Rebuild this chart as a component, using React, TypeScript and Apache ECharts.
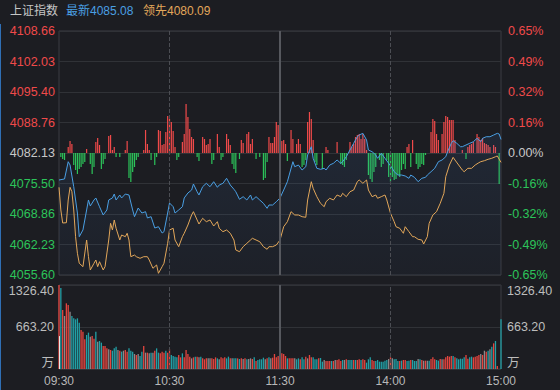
import React, { useEffect, useRef } from "react";
import * as echarts from "echarts";

// ---------- data ----------
const TITLE = "上证指数";
const LATEST_TEXT = "最新4085.08";
const LEAD_TEXT = "领先4080.09";

const PRICE_MIN = 4055.6;
const PRICE_MAX = 4108.66;
const PRICE_TICKS = ["4055.60", "4062.23", "4068.86", "4075.50", "4082.13", "4088.76", "4095.40", "4102.03", "4108.66"];
const PCT_TICKS = ["-0.65%", "-0.49%", "-0.32%", "-0.16%", "0.00%", "0.16%", "0.32%", "0.49%", "0.65%"];
const TIME_TICKS = ["09:30", "10:30", "11:30", "14:00", "15:00"];
const VOL_MAX = 1326.4;
const VOL_TICKS = ["万", "663.20", "1326.40"];
const AUCTION_VOLUME = 520;
const STRENGTH_RANGE = 122;

// minute index (0 = 09:30, 240 = 15:00), price
const LATEST: [number, number][] = [
  [0, 4076.26], [3, 4076.48], [5, 4080.24], [6, 4079.52], [8, 4074.8], [10, 4069.08], [11, 4063.93], [13, 4065.39],
  [15, 4069.74], [16, 4071.91], [17, 4070.61], [19, 4071.91], [20, 4072.35], [22, 4070.45], [24, 4068.65], [26, 4069.74],
  [27, 4071.91], [29, 4072.35], [30, 4073.21], [31, 4071.91], [33, 4073.0], [34, 4072.35], [36, 4073.21], [38, 4073.0],
  [40, 4069.74], [41, 4068.28], [43, 4070.17], [45, 4069.08], [47, 4069.37], [48, 4068.0], [50, 4068.28], [52, 4065.82],
  [54, 4066.1], [56, 4064.73], [57, 4065.02], [59, 4069.08], [60, 4071.26], [62, 4070.45], [63, 4069.08], [65, 4069.74],
  [67, 4070.45], [68, 4072.35], [70, 4073.43], [72, 4074.08], [73, 4075.39], [75, 4073.71], [76, 4073.0], [78, 4074.8],
  [80, 4075.54], [82, 4074.8], [84, 4075.89], [86, 4074.67], [87, 4075.17], [89, 4075.54], [91, 4076.63], [93, 4075.17],
  [95, 4074.24], [96, 4073.71], [98, 4072.06], [100, 4072.63], [102, 4071.91], [104, 4073.0], [105, 4071.91], [107, 4072.63],
  [109, 4071.91], [111, 4071.19], [113, 4070.1], [114, 4070.82], [116, 4070.82], [118, 4071.54], [120, 4072.35], [122, 4074.08],
  [124, 4075.89], [125, 4077.34], [127, 4080.24], [128, 4079.15], [130, 4079.52], [132, 4078.43], [134, 4079.15], [135, 4081.7],
  [137, 4083.5], [138, 4080.98], [140, 4078.8], [142, 4078.58], [144, 4078.8], [145, 4078.43], [147, 4079.52], [149, 4079.89],
  [151, 4080.61], [153, 4079.89], [154, 4080.24], [156, 4081.32], [158, 4082.78], [160, 4084.24], [162, 4085.67], [163, 4086.04],
  [165, 4086.41], [167, 4084.96], [168, 4082.78], [170, 4082.41], [172, 4081.7], [173, 4080.98], [175, 4082.07], [177, 4080.98],
  [179, 4079.89], [181, 4078.8], [182, 4078.06], [184, 4077.34], [186, 4077.34], [188, 4077.13], [190, 4076.63], [191, 4077.34],
  [193, 4076.84], [195, 4075.89], [197, 4076.63], [199, 4076.84], [200, 4077.34], [202, 4078.06], [204, 4078.8], [206, 4080.24],
  [208, 4080.61], [210, 4081.32], [211, 4082.41], [213, 4084.24], [214, 4084.81], [216, 4084.24], [218, 4083.5], [219, 4083.5],
  [221, 4083.87], [223, 4084.24], [225, 4084.59], [227, 4085.33], [229, 4084.59], [230, 4085.33], [232, 4085.67], [234, 4085.67],
  [236, 4086.04], [238, 4086.41], [239, 4086.26], [240, 4085.08],
];

const LEADING: [number, number][] = [
  [0, 4074.67], [1, 4069.74], [2, 4066.91], [4, 4066.97], [5, 4071.91], [6, 4074.67], [7, 4073.71], [8, 4069.74],
  [9, 4063.93], [10, 4060.32], [11, 4058.15], [13, 4057.41], [15, 4063.21], [16, 4059.58], [17, 4056.69], [19, 4058.15],
  [20, 4058.86], [21, 4057.41], [22, 4058.49], [24, 4056.69], [25, 4057.41], [27, 4063.21], [28, 4066.84], [29, 4065.39],
  [30, 4067.56], [31, 4065.76], [33, 4063.21], [34, 4064.3], [36, 4063.93], [37, 4064.67], [38, 4063.21], [39, 4059.58],
  [41, 4059.94], [42, 4059.58], [44, 4059.23], [46, 4059.58], [48, 4059.58], [49, 4058.86], [51, 4057.06], [53, 4057.78],
  [54, 4055.97], [56, 4057.41], [57, 4058.15], [59, 4062.49], [60, 4065.39], [62, 4065.76], [63, 4063.21], [65, 4061.76],
  [67, 4063.93], [68, 4064.67], [70, 4066.47], [72, 4068.65], [73, 4069.37], [75, 4067.56], [76, 4066.69], [78, 4067.93],
  [80, 4067.19], [82, 4067.56], [84, 4066.25], [86, 4067.19], [87, 4065.76], [89, 4065.02], [91, 4065.39], [93, 4064.67],
  [95, 4063.21], [96, 4061.04], [98, 4060.67], [100, 4061.76], [102, 4062.49], [104, 4063.21], [105, 4063.58], [107, 4063.21],
  [109, 4062.84], [111, 4061.76], [113, 4061.19], [114, 4061.76], [116, 4061.76], [118, 4062.12], [120, 4063.21], [122, 4066.1],
  [124, 4067.19], [126, 4069.37], [128, 4068.65], [130, 4068.65], [132, 4068.28], [134, 4068.15], [135, 4071.91], [137, 4075.89],
  [138, 4074.45], [140, 4072.63], [142, 4071.19], [144, 4070.45], [145, 4071.54], [147, 4072.28], [149, 4071.91], [151, 4073.0],
  [153, 4072.63], [154, 4073.37], [156, 4072.63], [158, 4073.71], [160, 4074.08], [162, 4075.89], [163, 4076.26], [165, 4075.54],
  [167, 4076.26], [168, 4074.08], [170, 4072.63], [172, 4073.0], [173, 4072.28], [175, 4072.63], [177, 4073.0], [178, 4071.91],
  [180, 4069.02], [182, 4067.19], [183, 4066.1], [185, 4065.76], [187, 4064.67], [188, 4066.1], [190, 4065.02], [192, 4063.93],
  [193, 4063.93], [195, 4063.36], [197, 4063.21], [198, 4062.34], [200, 4063.93], [201, 4066.84], [203, 4068.65], [205, 4069.37],
  [207, 4071.19], [209, 4073.37], [210, 4076.98], [212, 4079.52], [214, 4081.19], [215, 4080.61], [217, 4079.52], [219, 4078.43],
  [220, 4078.06], [222, 4078.8], [224, 4078.8], [226, 4079.52], [228, 4080.02], [229, 4080.24], [231, 4080.46], [233, 4080.76],
  [235, 4080.98], [237, 4081.32], [238, 4081.48], [240, 4080.09],
];

// minute index, buy(+)/sell(-) strength
const STRENGTH: [number, number][] = [
  [1, -4], [2, -6], [3, -7], [5, 6], [6, 12], [7, 9], [8, -12], [9, -17], [10, -21], [11, -16], [12, -14], [13, -11], [14, -9],
  [15, 4], [17, -11], [18, -21], [19, -14], [20, 11], [21, 15], [22, 8], [23, -16], [24, -11], [25, -6], [27, 17], [28, 18],
  [29, 3], [30, 6], [31, -4], [33, -4], [36, 3], [37, 12], [38, -25], [39, -29], [40, -19], [41, -14], [42, -7], [43, -4],
  [46, 3], [47, 23], [48, 9], [49, 3], [50, -7], [52, -12], [53, -4], [54, 23], [55, 22], [56, 8], [57, 9], [58, 21], [59, 37],
  [60, 34], [61, 31], [62, 22], [63, 6], [64, -7], [65, -4], [67, 11], [68, 19], [69, 49], [70, 36], [71, 24], [72, 16], [73, 14],
  [75, -4], [76, -8], [78, 16], [79, 14], [80, 8], [81, 9], [82, 14], [83, -11], [84, -7], [86, 19], [87, 6], [88, -7], [89, -4],
  [91, 19], [92, 14], [93, 8], [94, -11], [95, -16], [96, -20], [98, -6], [99, 13], [100, 10], [102, 19], [103, 21], [104, 9],
  [105, 14], [107, -6], [109, -4], [111, -27], [112, -25], [113, -9], [114, 16], [115, 10], [116, 10], [117, 16], [118, 31],
  [119, 28], [120, 19], [121, 12], [122, 13], [123, 9], [124, -8], [126, 23], [127, 14], [129, 9], [130, 14], [131, 9],
  [132, -14], [133, -12], [134, -7], [135, 31], [136, 41], [137, 34], [138, 13], [139, -9], [140, -12], [143, -16], [145, 6],
  [146, 3], [151, 11], [153, -11], [154, -12], [155, -14], [156, -7], [158, 11], [159, 6], [160, 9], [161, 16], [162, 18],
  [163, 19], [164, 14], [165, 19], [166, 14], [167, 3], [168, -22], [169, -26], [170, -29], [171, -19], [172, -14], [174, -7],
  [175, -14], [176, -11], [178, -7], [179, -24], [180, -29], [181, -24], [182, -27], [183, -26], [184, -22], [185, -24],
  [186, -17], [187, -11], [188, -16], [189, 6], [190, 9], [191, -14], [192, 13], [194, -11], [195, -16], [196, -14], [197, -11],
  [198, -12], [199, -2], [202, 21], [203, 34], [204, 32], [205, 19], [206, 13], [208, 19], [209, 31], [210, 37], [211, 36],
  [212, 33], [213, 33], [214, 33], [215, 13], [219, 3], [221, -6], [222, 6], [223, 8], [224, 9], [225, 11], [227, 19], [228, 16],
  [229, 13], [230, 15], [231, 10], [232, 9], [233, 8], [234, 6], [236, 8], [237, 6], [239, -31],
];

// volume per minute (万), minute 0..240
const VOLUME: number[] = [
  1326, 1279, 932, 837, 1037, 1011, 905, 837, 800, 784,
  800, 732, 616, 589, 468, 537, 574, 511, 521, 479,
  589, 432, 442, 416, 363, 363, 326, 311, 300, 289,
  326, 353, 300, 289, 274, 289, 300, 274, 326, 289,
  274, 237, 221, 237, 205, 274, 363, 258, 258, 247,
  258, 258, 289, 326, 258, 247, 274, 258, 289, 258,
  311, 221, 205, 195, 184, 221, 184, 247, 184, 300,
  237, 195, 168, 184, 195, 195, 184, 195, 168, 153,
  168, 168, 168, 168, 158, 184, 168, 153, 184, 168,
  184, 168, 195, 168, 168, 168, 168, 168, 158, 168,
  158, 168, 153, 158, 168, 158, 184, 126, 142, 153,
  153, 179, 153, 168, 184, 168, 179, 237, 184, 205,
  695, 247, 237, 205, 168, 168, 168, 168, 168, 153,
  168, 153, 184, 153, 195, 168, 221, 184, 184, 153,
  153, 168, 174, 116, 142, 126, 126, 126, 126, 126,
  142, 142, 153, 126, 142, 142, 153, 142, 142, 142,
  142, 142, 142, 153, 142, 153, 142, 100, 153, 184,
  142, 126, 126, 142, 116, 116, 116, 132, 142, 158,
  184, 168, 153, 158, 126, 126, 132, 142, 142, 126,
  132, 142, 142, 126, 126, 158, 153, 142, 132, 132,
  132, 132, 158, 184, 153, 142, 132, 158, 153, 153,
  184, 205, 195, 205, 205, 184, 168, 153, 163, 163,
  184, 221, 163, 184, 195, 184, 195, 205, 221, 237,
  221, 289, 274, 289, 311, 353, 405, 442, 47, 0,
  784,
];

// 1 = up, -1 = down, 0 = flat
const VOL_DIR: number[] = [
  1, -1, 1, 0, 1, 1, 0, -1, -1, -1,
  -1, -1, 1, 1, 1, -1, -1, 0, 1, 1,
  -1, 0, -1, -1, 1, 1, 1, 0, 1, -1,
  -1, -1, 0, 1, -1, 0, 1, 1, -1, -1,
  -1, 0, 1, 0, -1, -1, 1, 0, 1, 0,
  -1, 0, 1, -1, -1, 1, 1, 1, -1, 1,
  1, -1, -1, -1, -1, 1, 1, -1, 1, 1,
  1, 1, 0, 1, -1, 1, 0, -1, 1, 1,
  1, 0, 0, 1, 1, 1, -1, 0, 1, 1,
  1, -1, -1, 1, 0, -1, -1, 1, -1, 1,
  0, 1, -1, 0, 0, 1, -1, 1, -1, -1,
  -1, -1, 0, 1, -1, 0, 1, 1, 1, 1,
  1, 1, 1, 1, -1, 1, 1, 1, 0, -1,
  -1, 1, -1, -1, 1, 0, 1, 1, -1, -1,
  -1, 1, -1, -1, 0, 1, 1, 1, -1, 1,
  0, 1, 1, 1, -1, 0, 1, -1, -1, -1,
  1, -1, 1, 1, -1, 1, 1, -1, -1, -1,
  1, 1, -1, -1, -1, -1, -1, -1, -1, 0,
  1, 0, -1, -1, -1, 1, -1, 1, 1, -1,
  -1, 1, -1, -1, -1, 0, -1, 1, 0, 1,
  0, -1, 1, 1, 1, -1, -1, 1, 0, 1,
  1, 1, 1, 1, -1, 1, -1, -1, -1, -1,
  -1, 1, 1, -1, -1, 1, 1, 1, 1, 0,
  1, 0, 1, -1, 0, -1, 1, -1, 1, 0,
  -1,
];

// ---------- styles ----------
const BG = "#1c1d22";
const FONT = "'Liberation Sans', Arial, 'Noto Sans CJK SC', sans-serif";
const RED = "#f04a4a";
const GREEN = "#2cc45a";
const NEUTRAL = "#c8c8c8";
const BLUE = "#4a9fe3";
const ORANGE = "#e2a75a";
const VOL_RED = "#e5453f";
const VOL_TEAL = "#22a0a6";
const VOL_GRAY = "#8a8a8c";
const GRID_LINE = "#303237";
const BORDER = "#3a3c42";

const tickColor = (i: number) => (i > 4 ? RED : i < 4 ? GREEN : NEUTRAL);

const verticalMarks = {
  silent: true,
  symbol: ["none", "none"],
  label: { show: false },
  animation: false,
  data: [
    { xAxis: 60, lineStyle: { color: "#4b4d53", type: "dashed", width: 1 } },
    { xAxis: 120, lineStyle: { color: "#56585e", type: "solid", width: 2 } },
    { xAxis: 180, lineStyle: { color: "#4b4d53", type: "dashed", width: 1 } },
  ],
};

export default function App() {
  const ref = useRef<HTMLDivElement>(null);

  useEffect(() => {
    if (!ref.current) return;
    const chart = echarts.init(ref.current, null, { renderer: "svg" });

    const option: any = {
      animation: false,
      backgroundColor: BG,
      textStyle: { fontFamily: FONT },
      graphic: [
        { type: "rect", left: 0, top: 24, shape: { width: 1, height: 366 }, style: { fill: "#2f6fb5" }, silent: true },
        { type: "text", left: 10, top: 5, style: { text: TITLE, fill: "#c6c6c6", fontSize: 12, fontFamily: FONT } },
        { type: "text", left: 66, top: 5, style: { text: LATEST_TEXT, fill: BLUE, fontSize: 12, fontFamily: FONT } },
        { type: "text", left: 143, top: 5, style: { text: LEAD_TEXT, fill: ORANGE, fontSize: 12, fontFamily: FONT } },
      ],
      grid: [
        { left: 59, right: 59, top: 31, height: 244, show: true, borderColor: BORDER, borderWidth: 1, backgroundColor: "transparent" },
        { left: 59, right: 59, top: 285, height: 84, show: true, borderColor: BORDER, borderWidth: 1, backgroundColor: "transparent" },
      ],
      xAxis: [
        {
          type: "value", gridIndex: 0, min: 0, max: 240, interval: 60,
          axisLabel: { show: false }, axisLine: { show: false }, axisTick: { show: false }, splitLine: { show: false },
        },
        {
          type: "value", gridIndex: 1, min: 0, max: 240, interval: 60,
          axisLabel: {
            color: "#b8b8b8", fontSize: 12, margin: 6, fontFamily: FONT,
            formatter: (v: number) => TIME_TICKS[Math.round(v / 60)] ?? "",
          },
          axisLine: { show: false }, axisTick: { show: false }, splitLine: { show: false },
        },
      ],
      yAxis: [
        { type: "value", gridIndex: 0, min: PRICE_MIN, max: PRICE_MAX, show: false },
        {
          type: "value", gridIndex: 0, min: 0, max: 8, interval: 1, position: "left",
          axisLabel: {
            fontSize: 12.5, margin: 4, fontFamily: FONT,
            formatter: (v: number) => PRICE_TICKS[Math.round(v)] ?? "",
            color: (v: any) => tickColor(Math.round(Number(v))),
          },
          axisLine: { show: false }, axisTick: { show: false },
          splitLine: { show: true, lineStyle: { color: GRID_LINE, width: 1 } },
        },
        {
          type: "value", gridIndex: 0, min: 0, max: 8, interval: 1, position: "right",
          axisLabel: {
            fontSize: 12.5, margin: 7, fontFamily: FONT,
            formatter: (v: number) => PCT_TICKS[Math.round(v)] ?? "",
            color: (v: any) => tickColor(Math.round(Number(v))),
          },
          axisLine: { show: false }, axisTick: { show: false }, splitLine: { show: false },
        },
        { type: "value", gridIndex: 0, min: -STRENGTH_RANGE, max: STRENGTH_RANGE, show: false },
        {
          type: "value", gridIndex: 1, min: 0, max: VOL_MAX, interval: VOL_MAX / 2, position: "left",
          axisLabel: {
            fontSize: 12.5, margin: 5, color: "#bdbdbd", fontFamily: FONT,
            verticalAlignMinLabel: "bottom", verticalAlignMaxLabel: "top",
            formatter: (v: number) => VOL_TICKS[Math.round(v / (VOL_MAX / 2))] ?? "",
          },
          axisLine: { show: false }, axisTick: { show: false },
          splitLine: { show: true, lineStyle: { color: GRID_LINE, width: 1 } },
        },
        {
          type: "value", gridIndex: 1, min: 0, max: VOL_MAX, interval: VOL_MAX / 2, position: "right",
          axisLabel: {
            fontSize: 12.5, margin: 6, color: "#bdbdbd", fontFamily: FONT,
            verticalAlignMinLabel: "bottom", verticalAlignMaxLabel: "top",
            formatter: (v: number) => VOL_TICKS[Math.round(v / (VOL_MAX / 2))] ?? "",
          },
          axisLine: { show: false }, axisTick: { show: false }, splitLine: { show: false },
        },
      ],
      series: [
        {
          type: "bar", xAxisIndex: 0, yAxisIndex: 3, barWidth: 1.2, z: 2,
          data: STRENGTH.map(([m, v]) => ({ value: [m, v], itemStyle: { color: v > 0 ? RED : GREEN } })),
          markLine: verticalMarks,
        },
        {
          type: "line", xAxisIndex: 0, yAxisIndex: 0, data: LATEST, showSymbol: false, symbol: "none", z: 3,
          lineStyle: { color: BLUE, width: 1 },
          areaStyle: {
            origin: "start",
            color: new echarts.graphic.LinearGradient(0, 0, 0, 1, [
              { offset: 0, color: "rgba(70,130,210,0.16)" },
              { offset: 1, color: "rgba(70,130,210,0.05)" },
            ]),
          },
        },
        {
          type: "line", xAxisIndex: 0, yAxisIndex: 0, data: LEADING, showSymbol: false, symbol: "none", z: 4,
          lineStyle: { color: ORANGE, width: 1 },
        },
        {
          type: "bar", xAxisIndex: 1, yAxisIndex: 4, barWidth: 1.3, z: 2,
          data: VOLUME.map((v, i) => ({
            value: [i, v],
            itemStyle: { color: VOL_DIR[i] > 0 ? VOL_RED : VOL_DIR[i] < 0 ? VOL_TEAL : VOL_GRAY },
          })),
          markLine: {
            ...verticalMarks,
            data: [
              ...verticalMarks.data,
              [
                { coord: [0, 0], lineStyle: { color: "#e6e6e6", width: 1, type: "solid" } },
                { coord: [0, AUCTION_VOLUME] },
              ],
            ],
          },
        },
      ],
    };

    chart.setOption(option);
    return () => chart.dispose();
  }, []);

  return <div ref={ref} style={{ width: 560, height: 390, position: "absolute", left: 0, top: 0 }} />;
}
